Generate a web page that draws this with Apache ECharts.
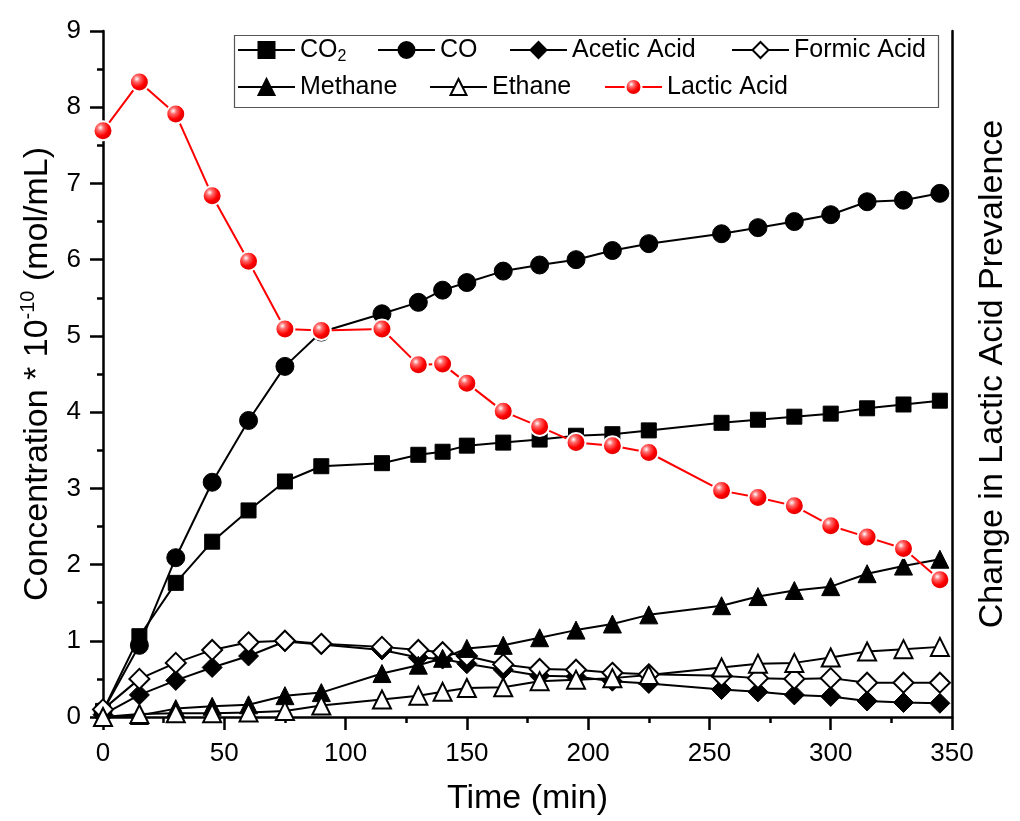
<!DOCTYPE html>
<html>
<head>
<meta charset="utf-8">
<style>
  html, body { margin: 0; padding: 0; background: #fff; }
  #chart { width: 1020px; height: 821px; }
</style>
<script src="https://cdn.jsdelivr.net/npm/echarts@6/dist/echarts.min.js"></script>
</head>
<body>
<div id="chart"></div>
<script>
// Sampling times (min)
const time = [0, 15, 30, 45, 60, 75, 90, 115, 130, 140, 150, 165, 180, 195, 210, 225, 255, 270, 285, 300, 315, 330, 345];

// Concentrations * 10^-10 (mol/mL)
const co2     = [0.08, 1.06, 1.76, 2.30, 2.71, 3.09, 3.29, 3.33, 3.44, 3.48, 3.56, 3.60, 3.64, 3.69, 3.71, 3.76, 3.86, 3.90, 3.94, 3.98, 4.05, 4.10, 4.15];
const co      = [0.08, 0.94, 2.09, 3.08, 3.89, 4.60, 5.05, 5.29, 5.44, 5.60, 5.70, 5.85, 5.93, 6.00, 6.12, 6.21, 6.34, 6.42, 6.50, 6.59, 6.76, 6.78, 6.87];
const acetic  = [0.03, 0.29, 0.48, 0.65, 0.80, 0.99, 0.95, 0.88, 0.78, 0.76, 0.70, 0.62, 0.54, 0.53, 0.47, 0.44, 0.36, 0.33, 0.29, 0.27, 0.21, 0.19, 0.18];
const formic  = [0.10, 0.50, 0.71, 0.88, 0.98, 1.00, 0.96, 0.92, 0.88, 0.85, 0.80, 0.69, 0.63, 0.62, 0.58, 0.56, 0.54, 0.51, 0.50, 0.51, 0.45, 0.45, 0.45];
const methane = [0.00, 0.02, 0.11, 0.14, 0.16, 0.28, 0.32, 0.57, 0.68, 0.77, 0.90, 0.94, 1.04, 1.14, 1.22, 1.34, 1.46, 1.58, 1.66, 1.71, 1.88, 1.98, 2.07];
const ethane  = [0.00, 0.04, 0.05, 0.05, 0.06, 0.08, 0.15, 0.23, 0.28, 0.33, 0.38, 0.39, 0.47, 0.49, 0.51, 0.55, 0.65, 0.70, 0.71, 0.78, 0.86, 0.89, 0.92];

// Relative lactic acid prevalence (right axis, same scale)
const lactic  = [7.69, 8.33, 7.91, 6.84, 5.98, 5.09, 5.07, 5.09, 4.62, 4.63, 4.38, 4.01, 3.81, 3.60, 3.56, 3.47, 2.97, 2.88, 2.77, 2.51, 2.36, 2.21, 1.80];

const FONT = 'Liberation Sans, Arial, sans-serif';

function pairs(ys) { return time.map((t, i) => [t, ys[i]]); }

const sphere = {
  type: 'radial', x: 0.38, y: 0.35, r: 0.72,
  colorStops: [
    { offset: 0, color: '#ffffff' },
    { offset: 0.22, color: '#ff6a6a' },
    { offset: 0.55, color: '#ff0000' },
    { offset: 1, color: '#c40000' }
  ]
};

function blackSeries(name, data, symbol, size, open) {
  return {
    name, type: 'line', data: pairs(data),
    symbol, symbolSize: size,
    lineStyle: { color: '#000', width: 2 },
    itemStyle: open
      ? { color: '#fff', borderColor: '#000', borderWidth: 2 }
      : { color: '#000', borderColor: '#000', borderWidth: 1 },
    emphasis: { disabled: true },
    z: 2
  };
}

const series = [
  blackSeries('CO2', co2, 'rect', 15, false),
  blackSeries('CO', co, 'circle', 18, false),
  blackSeries('Acetic Acid', acetic, 'diamond', 20, false),
  blackSeries('Formic Acid', formic, 'diamond', 20, true),
  blackSeries('Methane', methane, 'triangle', 18, false),
  blackSeries('Ethane', ethane, 'triangle', 18, true),
  {
    name: 'Lactic Acid', type: 'line', data: pairs(lactic), yAxisIndex: 1,
    symbol: 'circle', symbolSize: 19,
    lineStyle: { color: '#ff0000', width: 2 },
    itemStyle: { color: sphere, borderColor: '#fff', borderWidth: 2 },
    emphasis: { disabled: true },
    z: 3
  }
];

// Legend entries laid out in two rows inside one framed box
const legendSlots = [
  { name: 'CO2', left: 237, row: 0 },
  { name: 'CO', left: 377, row: 0 },
  { name: 'Acetic Acid', left: 509, row: 0 },
  { name: 'Formic Acid', left: 731, row: 0 },
  { name: 'Methane', left: 237, row: 1 },
  { name: 'Ethane', left: 429, row: 1 },
  { name: 'Lactic Acid', left: 604, row: 1 }
];
const rowTop = [35, 72];

const legends = legendSlots.map(s => ({
  data: [s.name],
  left: s.left, top: rowTop[s.row],
  padding: 0,
  itemWidth: 57, itemHeight: 20,
  selectedMode: false,
  textStyle: {
    fontFamily: FONT, fontSize: 25, color: '#000', lineHeight: 30,
    rich: {
      n: { fontFamily: FONT, fontSize: 25, color: '#000', lineHeight: 30 },
      s: { fontFamily: FONT, fontSize: 16, color: '#000', lineHeight: 30, padding: [14, 0, 0, 0] }
    }
  },
  formatter: name => name === 'CO2' ? '{n|CO}{s|2}' : name
}));

const option = {
  backgroundColor: '#fff',
  animation: false,
  grid: { left: 103, right: 68, top: 31, bottom: 104, containLabel: false },
  legend: legends,
  graphic: [{
    type: 'rect', left: 232, top: 33, z: 10,
    shape: { width: 704, height: 72 },
    style: { fill: null, stroke: '#555', lineWidth: 1.2 }
  }],
  xAxis: {
    type: 'value', min: 0, max: 350, interval: 50,
    name: 'Time (min)', nameLocation: 'middle', nameGap: 65,
    nameTextStyle: { fontFamily: FONT, fontSize: 34, color: '#000' },
    axisLine: { show: true, onZero: false, lineStyle: { color: '#000', width: 2.5 } },
    axisTick: { show: true, inside: false, length: 13, lineStyle: { color: '#000', width: 2.5 } },
    minorTick: { show: true, splitNumber: 2, length: 6, lineStyle: { color: '#000', width: 2.5 } },
    axisLabel: { fontFamily: FONT, fontSize: 26, color: '#000', margin: 24 },
    splitLine: { show: false }
  },
  yAxis: [{
    type: 'value', min: 0, max: 9, interval: 1,
    name: '{a|Concentration * 10}{b|-10}{a| (mol/mL)}',
    nameLocation: 'middle', nameRotate: 90, nameGap: 45,
    nameTextStyle: {
      fontFamily: FONT, fontSize: 34, color: '#000',
      rich: {
        a: { fontFamily: FONT, fontSize: 34, color: '#000', lineHeight: 40 },
        b: { fontFamily: FONT, fontSize: 20, color: '#000', lineHeight: 16, verticalAlign: 'top' }
      }
    },
    axisLine: { show: true, onZero: false, lineStyle: { color: '#000', width: 2.5 } },
    axisTick: { show: true, inside: false, length: 13, lineStyle: { color: '#000', width: 2.5 } },
    minorTick: { show: true, splitNumber: 2, length: 6, lineStyle: { color: '#000', width: 2.5 } },
    axisLabel: { fontFamily: FONT, fontSize: 26, color: '#000', margin: 22 },
    splitLine: { show: false }
  }, {
    type: 'value', min: 0, max: 9, interval: 1, position: 'right',
    name: 'Change in Lactic Acid Prevalence',
    nameLocation: 'middle', nameRotate: 90, nameGap: 24,
    nameTextStyle: { fontFamily: FONT, fontSize: 34, color: '#000' },
    axisLine: { show: true, onZero: false, lineStyle: { color: '#000', width: 2.5 } },
    axisTick: { show: false },
    axisLabel: { show: false },
    splitLine: { show: false }
  }],
  series
};

const chart = echarts.init(document.getElementById('chart'), null, { renderer: 'canvas' });
chart.setOption(option);
</script>
</body>
</html>
